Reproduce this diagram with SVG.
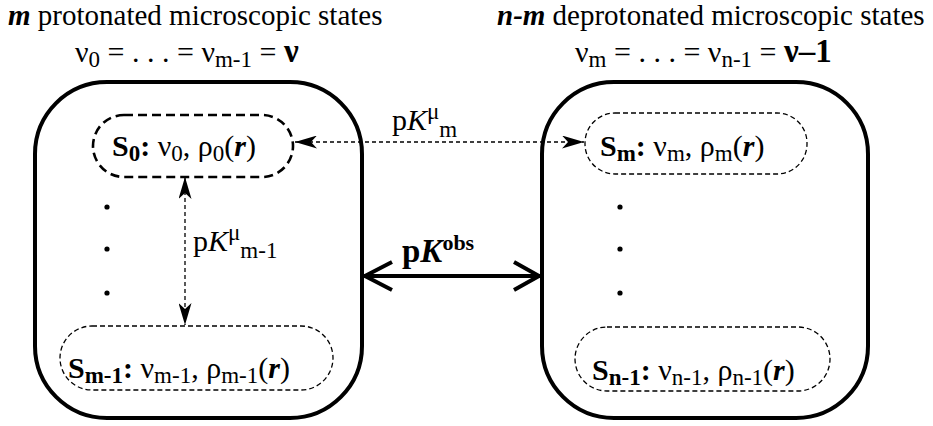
<svg xmlns="http://www.w3.org/2000/svg" width="933" height="426" viewBox="0 0 933 426">
<style>
text{font-family:"Liberation Serif","Times New Roman",serif;fill:#000}
.t{font-size:29px}
.p{font-size:30px}
.sub{font-size:23px}
.b{font-weight:bold}
.bi{font-weight:bold;font-style:italic}
.i{font-style:italic}
.box{fill:none;stroke:#000;stroke-width:4}
.pill{fill:none;stroke:#000;stroke-width:1.3;stroke-dasharray:5 3}
.pillb{fill:none;stroke:#000;stroke-width:2.6;stroke-dasharray:9 5}
.dash{fill:none;stroke:#000;stroke-width:1.3;stroke-dasharray:4 3}
.thick{fill:none;stroke:#000;stroke-width:4}
</style>
<defs>
<marker id="ah" viewBox="0 0 22 13" refX="22" refY="6.5" markerWidth="22" markerHeight="13" markerUnits="userSpaceOnUse" orient="auto-start-reverse">
<path d="M0,0 L22,6.5 L0,13 L6,6.5 Z" fill="#000"/>
</marker>
</defs>

<g id="titles">
<text class="t" x="8" y="25"><tspan class="bi">m</tspan> protonated microscopic states</text>
<text class="p" x="75" y="62">ν<tspan class="sub" dy="5">0</tspan><tspan dy="-5"> = . . . = ν</tspan><tspan class="sub" dy="5">m-1</tspan><tspan dy="-5"> = </tspan><tspan class="b" style="font-size:33px">ν</tspan></text>
<text class="t" x="497" y="25"><tspan class="bi">n-m</tspan> deprotonated microscopic states</text>
<text class="p" x="575" y="62">ν<tspan class="sub" dy="5">m</tspan><tspan dy="-5"> = . . . = ν</tspan><tspan class="sub" dy="5">n-1</tspan><tspan dy="-5"> = </tspan><tspan class="b" style="font-size:33px">ν–1</tspan></text>
</g>

<g id="protonated">
<rect class="box" x="35" y="82" width="327" height="336" rx="72" ry="72"/>
</g>
<g id="deprotonated">
<rect class="box" x="542" y="82" width="326" height="336" rx="72" ry="72"/>
</g>

<g id="S0">
<rect class="pillb" x="93" y="115" width="200" height="62" rx="31" ry="31"/>
<text class="p" x="112" y="156"><tspan class="b">S</tspan><tspan class="sub b" dy="5">0</tspan><tspan class="b" dy="-5">:</tspan> ν<tspan class="sub" dy="5">0</tspan><tspan dy="-5">, ρ</tspan><tspan class="sub" dy="5">0</tspan><tspan dy="-5">(</tspan><tspan class="bi">r</tspan>)</text>
</g>
<g id="Sm1">
<rect class="pill" x="60" y="326" width="273" height="64" rx="32" ry="32"/>
<text class="p" x="68" y="378"><tspan class="b">S</tspan><tspan class="sub b" dy="5">m-1</tspan><tspan class="b" dy="-5">:</tspan> ν<tspan class="sub" dy="5">m-1</tspan><tspan dy="-5">, ρ</tspan><tspan class="sub" dy="5">m-1</tspan><tspan dy="-5">(</tspan><tspan class="bi">r</tspan>)</text>
</g>
<g id="Sm">
<rect class="pill" x="585" y="113" width="222" height="61" rx="30" ry="30"/>
<text class="p" x="600" y="156"><tspan class="b">S</tspan><tspan class="sub b" dy="5">m</tspan><tspan class="b" dy="-5">:</tspan> ν<tspan class="sub" dy="5">m</tspan><tspan dy="-5">, ρ</tspan><tspan class="sub" dy="5">m</tspan><tspan dy="-5">(</tspan><tspan class="bi">r</tspan>)</text>
</g>
<g id="Sn1">
<rect class="pill" x="575" y="327" width="255" height="64" rx="32" ry="32"/>
<text class="p" x="592" y="380"><tspan class="b">S</tspan><tspan class="sub b" dy="5">n-1</tspan><tspan class="b" dy="-5">:</tspan> ν<tspan class="sub" dy="5">n-1</tspan><tspan dy="-5">, ρ</tspan><tspan class="sub" dy="5">n-1</tspan><tspan dy="-5">(</tspan><tspan class="bi">r</tspan>)</text>
</g>

<g id="dots">
<circle cx="107" cy="207" r="2.6"/>
<circle cx="107" cy="249" r="2.6"/>
<circle cx="107" cy="293" r="2.6"/>
<circle cx="620" cy="207" r="2.6"/>
<circle cx="620" cy="249" r="2.6"/>
<circle cx="620" cy="293" r="2.6"/>
</g>

<g id="connectors">
<line class="dash" x1="295" y1="142" x2="584" y2="142" marker-start="url(#ah)" marker-end="url(#ah)"/>
<line class="dash" x1="185" y1="177" x2="185" y2="325" marker-start="url(#ah)" marker-end="url(#ah)"/>
<line class="thick" x1="364" y1="276" x2="540" y2="276"/>
<polyline class="thick" points="392,262 365,276 392,290"/>
<polyline class="thick" points="514,262 539,276 514,290"/>
</g>

<g id="labels">
<text class="p" x="392" y="130">p<tspan class="i">K</tspan><tspan class="sub" dy="-11">μ</tspan><tspan class="sub" dy="18">m</tspan></text>
<text class="p" x="193" y="251">p<tspan class="i">K</tspan><tspan class="sub" dy="-11">μ</tspan><tspan class="sub" dy="18">m-1</tspan></text>
<text x="402" y="262" style="font-size:33px"><tspan class="b">p</tspan><tspan class="bi">K</tspan><tspan class="b" style="font-size:22px" dy="-12">obs</tspan></text>
</g>
</svg>
